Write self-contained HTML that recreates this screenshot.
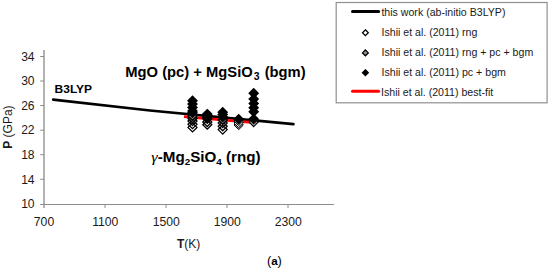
<!DOCTYPE html>
<html><head><meta charset="utf-8">
<style>
html,body{margin:0;padding:0;background:#fff;width:550px;height:270px;overflow:hidden}
svg{display:block}
text{font-family:"Liberation Sans",sans-serif}
</style></head><body>
<svg width="550" height="270" viewBox="0 0 550 270">
<!-- axes -->
<g stroke="#8c8c8c" stroke-width="1" fill="none">
  <line x1="44" y1="50" x2="44" y2="208" stroke="#a0a0a0" stroke-width="1.6"/>
  <line x1="40.2" y1="204.5" x2="334" y2="204.5"/>
  <line x1="40.2" y1="56.5" x2="44" y2="56.5"/>
  <line x1="40.2" y1="81" x2="44" y2="81"/>
  <line x1="40.2" y1="105.5" x2="44" y2="105.5"/>
  <line x1="40.2" y1="130.2" x2="44" y2="130.2"/>
  <line x1="40.2" y1="154.7" x2="44" y2="154.7"/>
  <line x1="40.2" y1="179.3" x2="44" y2="179.3"/>
  <line x1="105" y1="204.5" x2="105" y2="208"/>
  <line x1="166" y1="204.5" x2="166" y2="208"/>
  <line x1="227" y1="204.5" x2="227" y2="208"/>
  <line x1="288" y1="204.5" x2="288" y2="208"/>
</g>
<g font-size="12.1" fill="#1a1a1a" text-anchor="end">
  <text x="34.6" y="60.8">34</text>
  <text x="34.6" y="85.3">30</text>
  <text x="34.6" y="109.9">26</text>
  <text x="34.6" y="134.4">22</text>
  <text x="34.6" y="159">18</text>
  <text x="34.6" y="183.6">14</text>
  <text x="34.6" y="208.1">10</text>
</g>
<g font-size="12.2" fill="#1a1a1a" text-anchor="middle">
  <text x="44" y="226">700</text>
  <text x="105.3" y="226">1100</text>
  <text x="166.3" y="226">1500</text>
  <text x="227.3" y="226">1900</text>
  <text x="288.2" y="226">2300</text>
</g>
<!-- axis titles -->
<text x="177" y="247.6" font-size="12" fill="#1a1a1a"><tspan font-weight="bold">T</tspan>(K)</text>
<text transform="translate(12,148.8) rotate(-90)" font-size="12" fill="#1a1a1a"><tspan font-weight="bold">P</tspan> (GPa)</text>

<!-- B3LYP line -->
<polyline points="53.2,99.7 150,110.5 293.4,124.1" fill="none" stroke="#000" stroke-width="2.7" stroke-linecap="round" stroke-linejoin="round"/>

<!-- red best-fit -->
<line x1="184" y1="116.6" x2="254" y2="122.6" stroke="#f00" stroke-width="2.8"/>
<!-- markers -->
<g id="markers">
<path d="M192.5,122.90L197.00,127.4L192.5,131.90L188.00,127.4Z" fill="none" stroke="#000" stroke-width="1.3"/>
<path d="M192.5,119.70L197.00,124.2L192.5,128.70L188.00,124.2Z" fill="none" stroke="#000" stroke-width="1.3"/>
<path d="M192.5,116.50L197.00,121.0L192.5,125.50L188.00,121.0Z" fill="none" stroke="#000" stroke-width="1.3"/>
<path d="M192.5,114.20L196.90,118.6L192.5,123.00L188.10,118.6Z" fill="#909090" stroke="#000" stroke-width="1.5"/>
<path d="M192.5,111.60L196.90,116.0L192.5,120.40L188.10,116.0Z" fill="#909090" stroke="#000" stroke-width="1.5"/>
<path d="M192.5,108.40L196.90,112.8L192.5,117.20L188.10,112.8Z" fill="#000" stroke="#000" stroke-width="1.5"/>
<path d="M192.5,106.50L196.90,110.9L192.5,115.30L188.10,110.9Z" fill="#000" stroke="#000" stroke-width="1.5"/>
<path d="M192.5,103.10L196.90,107.5L192.5,111.90L188.10,107.5Z" fill="#000" stroke="#000" stroke-width="1.5"/>
<path d="M192.5,99.70L196.90,104.1L192.5,108.50L188.10,104.1Z" fill="#000" stroke="#000" stroke-width="1.5"/>
<path d="M192.5,96.40L196.90,100.8L192.5,105.20L188.10,100.8Z" fill="#000" stroke="#000" stroke-width="1.5"/>
<path d="M207.3,120.20L211.80,124.7L207.3,129.20L202.80,124.7Z" fill="none" stroke="#000" stroke-width="1.3"/>
<path d="M207.3,117.50L211.80,122.0L207.3,126.50L202.80,122.0Z" fill="none" stroke="#000" stroke-width="1.3"/>
<path d="M207.3,114.40L211.70,118.8L207.3,123.20L202.90,118.8Z" fill="#000" stroke="#000" stroke-width="1.5"/>
<path d="M207.3,112.90L211.70,117.3L207.3,121.70L202.90,117.3Z" fill="#000" stroke="#000" stroke-width="1.5"/>
<path d="M207.3,111.30L211.70,115.7L207.3,120.10L202.90,115.7Z" fill="#000" stroke="#000" stroke-width="1.5"/>
<path d="M207.3,109.70L211.70,114.1L207.3,118.50L202.90,114.1Z" fill="#000" stroke="#000" stroke-width="1.5"/>
<path d="M222.7,125.10L227.20,129.6L222.7,134.10L218.20,129.6Z" fill="none" stroke="#000" stroke-width="1.3"/>
<path d="M222.7,121.80L227.20,126.3L222.7,130.80L218.20,126.3Z" fill="none" stroke="#000" stroke-width="1.3"/>
<path d="M222.7,118.50L227.20,123.0L222.7,127.50L218.20,123.0Z" fill="none" stroke="#000" stroke-width="1.3"/>
<path d="M222.7,115.60L227.10,120.0L222.7,124.40L218.30,120.0Z" fill="#909090" stroke="#000" stroke-width="1.5"/>
<path d="M222.7,112.60L227.10,117.0L222.7,121.40L218.30,117.0Z" fill="#000" stroke="#000" stroke-width="1.5"/>
<path d="M222.7,110.20L227.10,114.6L222.7,119.00L218.30,114.6Z" fill="#000" stroke="#000" stroke-width="1.5"/>
<path d="M222.7,107.80L227.10,112.2L222.7,116.60L218.30,112.2Z" fill="#000" stroke="#000" stroke-width="1.5"/>
<path d="M238.7,120.35L243.35,125.0L238.7,129.65L234.05,125.0Z" fill="#909090" stroke="#000" stroke-width="1.0"/>
<path d="M238.7,118.35L243.35,123.0L238.7,127.65L234.05,123.0Z" fill="#fff" stroke="#000" stroke-width="1.0"/>
<path d="M238.7,116.35L243.35,121.0L238.7,125.65L234.05,121.0Z" fill="#fff" stroke="#000" stroke-width="1.0"/>
<path d="M238.7,114.80L243.10,119.2L238.7,123.60L234.30,119.2Z" fill="#000" stroke="#000" stroke-width="1.5"/>
<path d="M253.7,117.45L258.25,122.0L253.7,126.55L249.15,122.0Z" fill="#b8b8b8" stroke="#000" stroke-width="1.2"/>
<path d="M253.7,114.60L258.10,119.0L253.7,123.40L249.30,119.0Z" fill="#000" stroke="#000" stroke-width="1.5"/>
<path d="M253.7,107.30L258.10,111.7L253.7,116.10L249.30,111.7Z" fill="#000" stroke="#000" stroke-width="1.5"/>
<path d="M253.7,103.30L258.10,107.7L253.7,112.10L249.30,107.7Z" fill="#000" stroke="#000" stroke-width="1.5"/>
<path d="M253.7,99.00L258.10,103.4L253.7,107.80L249.30,103.4Z" fill="#000" stroke="#000" stroke-width="1.5"/>
<path d="M253.7,94.60L258.10,99.0L253.7,103.40L249.30,99.0Z" fill="#000" stroke="#000" stroke-width="1.5"/>
<path d="M253.7,88.90L258.10,93.3L253.7,97.70L249.30,93.3Z" fill="#000" stroke="#000" stroke-width="1.5"/>

</g>

<!-- annotations -->
<text transform="translate(54.6,93.3) scale(1.07,1)" font-size="11.2" font-weight="bold" fill="#000">B3LYP</text>
<text transform="translate(125.3,76.9) scale(1.04,1)" font-size="14.2" font-weight="bold" fill="#000">MgO (pc) + MgSiO<tspan font-size="10" dx="1.0" dy="3.3">3</tspan><tspan dy="-3.3" dx="1.0"> (bgm)</tspan></text>
<text transform="translate(151.3,161.7) scale(1.04,1)" font-size="14.6" font-weight="bold" fill="#000"><tspan font-weight="normal" font-style="italic" font-family="Liberation Serif" font-size="15.6">γ</tspan>-Mg<tspan font-size="9.5" dy="3">2</tspan><tspan dy="-3">SiO</tspan><tspan font-size="9.5" dy="3">4</tspan><tspan dy="-3"> (rng)</tspan></text>

<!-- legend -->
<rect x="336.2" y="2.5" width="210.9" height="100.3" fill="#fff" stroke="#909090" stroke-width="1.2"/>
<line x1="352.5" y1="11.5" x2="378.6" y2="11.5" stroke="#000" stroke-width="3" stroke-linecap="round"/>
<path d="M365.40,29.80L368.30,32.70L365.40,35.60L362.50,32.70Z" fill="#fff" stroke="#000" stroke-width="1.28"/>
<path d="M365.40,50.00L368.30,52.90L365.40,55.80L362.50,52.90Z" fill="#969696" stroke="#000" stroke-width="1.28"/>
<path d="M365.40,69.80L368.30,72.70L365.40,75.60L362.50,72.70Z" fill="#000" stroke="#000" stroke-width="1.28"/>
<line x1="352.5" y1="91.3" x2="378.6" y2="91.3" stroke="#f00" stroke-width="3" stroke-linecap="round"/>
<g font-size="10.6" fill="#1a1a1a">
  <text x="381.4" y="15.8">this work (ab-initio B3LYP)</text>
  <text x="381.5" y="36">Ishii et al. (2011) rng</text>
  <text x="381.5" y="56">Ishii et al. (2011) rng + pc + bgm</text>
  <text x="381.5" y="76">Ishii et al. (2011) pc + bgm</text>
  <text x="381" y="95.5">Ishii et al. (2011) best-fit</text>
</g>

<!-- (a) -->
<text x="266.9" y="265.2" font-family="Liberation Serif" font-size="12.8" fill="#000">(<tspan font-weight="bold" font-size="11.6">a</tspan>)</text>
</svg>
</body></html>
